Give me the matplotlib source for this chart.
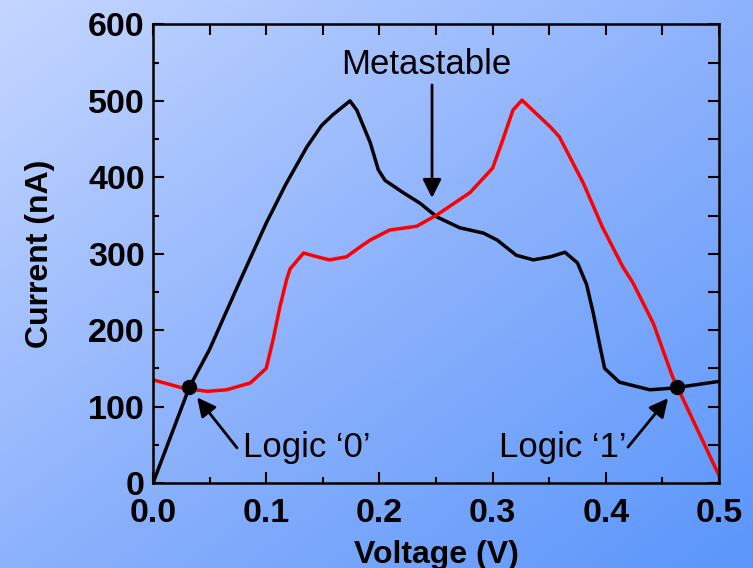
import numpy as np
import matplotlib.pyplot as plt
from matplotlib.colors import LinearSegmentedColormap

plt.rcParams['font.family'] = ['Liberation Sans', 'DejaVu Sans']

# --- data ---
v_black = [0.000, 0.032, 0.050, 0.077, 0.100, 0.117, 0.136, 0.149, 0.159, 0.174,
           0.180, 0.192, 0.199, 0.205, 0.221, 0.236, 0.251, 0.271, 0.292, 0.304,
           0.321, 0.336, 0.351, 0.364, 0.375, 0.383, 0.389, 0.395, 0.399, 0.412,
           0.439, 0.457, 0.463, 0.500]
i_black = [0, 125, 175, 265, 340, 390, 440, 468, 482, 500,
           488, 445, 410, 396, 380, 366, 348, 334, 327, 318,
           298, 292, 296, 302, 288, 260, 222, 178, 150, 132,
           122, 124, 125, 133]

v_red = [0.000, 0.027, 0.048, 0.065, 0.086, 0.100, 0.106, 0.112, 0.118, 0.121,
         0.133, 0.145, 0.156, 0.171, 0.183, 0.192, 0.209, 0.233, 0.251, 0.280,
         0.300, 0.309, 0.318, 0.326, 0.351, 0.359, 0.380, 0.397, 0.415, 0.424,
         0.442, 0.459, 0.500]
i_red = [135, 124, 120, 122, 131, 150, 187, 230, 266, 280,
         301, 296, 292, 296, 309, 318, 331, 336, 351, 380,
         412, 449, 488, 501, 466, 453, 393, 335, 283, 262,
         209, 139, 10]

v_states = [0.032, 0.463]
i_states = [125, 125]

fig = plt.figure(figsize=(7.53, 5.68), dpi=100)

# background gradient (light top-left -> darker bottom-right)
bg = fig.add_axes([0, 0, 1, 1], zorder=-10)
xx, yy = np.meshgrid(np.linspace(0, 1, 300), np.linspace(0, 1, 300))
grad = (xx + yy) / 2
cmap = LinearSegmentedColormap.from_list('bg', ['#c4d6ff', '#8db2fc', '#5a96fb'])
bg.imshow(grad, cmap=cmap, aspect='auto', extent=[0, 1, 0, 1], origin='upper')
bg.axis('off')

ax = fig.add_axes([0.2032, 0.1496, 0.7516, 0.8073])
ax.set_facecolor('none')

ax.plot(v_black, i_black, color='black', lw=2.5)
ax.plot(v_red, i_red, color='red', lw=2.5)
ax.plot(v_states, i_states, 'o', color='black', ms=10)

ax.set_xlim(0, 0.5)
ax.set_ylim(0, 600)
ax.set_xticks(np.arange(0, 0.51, 0.1))
ax.set_xticks(np.arange(0.05, 0.5, 0.1), minor=True)
ax.set_yticks(np.arange(0, 601, 100))
ax.set_yticks(np.arange(50, 600, 100), minor=True)
ax.set_xticklabels(['0.0', '0.1', '0.2', '0.3', '0.4', '0.5'])
ax.tick_params(which='major', direction='in', length=8, width=1.5,
               labelsize=24.5)
ax.tick_params(axis='x', which='major', pad=11)
ax.tick_params(axis='y', which='major', pad=6)
ax.tick_params(which='minor', direction='in', length=4, width=1.5)
for lab in ax.get_xticklabels() + ax.get_yticklabels():
    lab.set_fontweight('bold')
for s in ax.spines.values():
    s.set_linewidth(1.8)

# top and right ticks, all same length
top = ax.secondary_xaxis('top')
top.set_xticks(np.arange(0, 0.51, 0.05))
top.tick_params(direction='in', length=8, width=1.5, labeltop=False)
right = ax.secondary_yaxis('right')
right.set_yticks(np.arange(0, 601, 50))
right.tick_params(direction='in', length=8, width=1.5, labelright=False)

ax.set_xlabel('Voltage (V)', fontsize=23, fontweight='bold', labelpad=8)
ax.set_ylabel('Current (nA)', fontsize=23, fontweight='bold', labelpad=24)

arrow = dict(arrowstyle='-|>', color='black', lw=2, mutation_scale=28,
             shrinkA=0, shrinkB=0)
ax.text(0.241, 548, 'Metastable', fontsize=25, ha='center', va='center')
ax.annotate('', xy=(0.2465, 373), xytext=(0.2465, 521), arrowprops=arrow)

ax.text(0.0795, 47, 'Logic \u20180\u2019', fontsize=25, ha='left', va='center')
ax.annotate('', xy=(0.039, 112), xytext=(0.0742, 46), arrowprops=arrow)

ax.text(0.4187, 47, 'Logic \u20181\u2019', fontsize=25, ha='right', va='center')
ax.annotate('', xy=(0.455, 111), xytext=(0.4196, 47), arrowprops=arrow)

fig.savefig('out.png', dpi=100)
